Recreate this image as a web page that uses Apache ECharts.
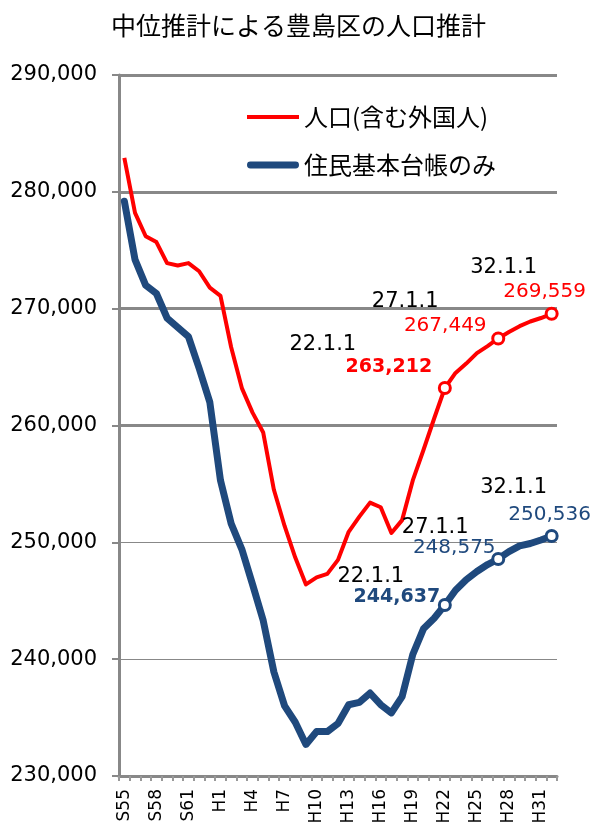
<!DOCTYPE html>
<html>
<head>
<meta charset="utf-8">
<script src="https://cdn.jsdelivr.net/npm/echarts@6/dist/echarts.min.js"></script>
<style>
html,body{margin:0;padding:0;background:#fff}
#chart{width:595px;height:836px}
</style>
</head>
<body>
<div id="chart"></div>
<script>
// 年（1月1日）
const categories = [
    'S55','S56','S57','S58','S59','S60','S61','S62','S63',
    'H1','H2','H3','H4','H5','H6','H7','H8','H9','H10',
    'H11','H12','H13','H14','H15','H16','H17','H18','H19','H20',
    'H21','H22','H23','H24','H25','H26','H27','H28','H29','H30',
    'H31','H32'
];
// 人口(含む外国人)
const popTotal = [
    282900, 278200, 276200, 275700, 273900, 273700, 273900, 273200, 271800,
    271100, 266700, 263200, 261100, 259400, 254500, 251400, 248700, 246400, 247000,
    247300, 248500, 250900, 252200, 253400, 253000, 250800, 251900, 255300, 257900,
    260600, 263212, 264500, 265300, 266200, 266800, 267449, 268000, 268500, 268900,
    269200, 269559
];
// 住民基本台帳のみ
const popRegistry = [
    279200, 274200, 272000, 271300, 269200, 268400, 267600, 264900, 262000,
    255300, 251600, 249400, 246400, 243300, 238900, 236000, 234600, 232700, 233800,
    233800, 234500, 236100, 236300, 237100, 236100, 235400, 236800, 240400, 242600,
    243500, 244637, 245900, 246800, 247500, 248100, 248575, 249200, 249700, 249900,
    250200, 250536
];
const yTicks = [230000, 290000, 10000];
const markYears = ['H22', 'H27', 'H32'];
const markDates = ['22.1.1', '27.1.1', '32.1.1'];
const thickGrid = [260000, 270000, 280000, 290000];

const RED = '#FF0000';
const BLUE = '#1F497D';

function fmt(v) {
    return v.toLocaleString('en-US');
}

/** 目印付きのデータを作る */
function buildData(values, color, valOffsets, boldIdx) {
    return values.map((v, i) => {
        let k = markYears.indexOf(categories[i]);
        if (k < 0) return v;
        return {
            value: v,
            symbol: 'circle',
            symbolSize: 11,
            itemStyle: {color: '#fff', borderColor: color, borderWidth: 3},
            label: {
                show: true,
                position: 'inside',
                offset: valOffsets[k],
                formatter: fmt(v),
                color: color,
                fontFamily: 'DejaVu Sans',
                fontSize: k === boldIdx ? 19 : 20,
                fontWeight: k === boldIdx ? 'bold' : 'normal'
            }
        };
    });
}

function buildDates(values, dateOffsets) {
    return markYears.map((y, k) => ({
        coord: [y, values[categories.indexOf(y)]],
        label: {formatter: markDates[k], offset: dateOffsets[k]}
    }));
}

const markPointBase = {
    symbol: 'circle',
    symbolSize: 1,
    itemStyle: {color: 'rgba(0,0,0,0)'},
    silent: true,
    label: {
        show: true,
        position: 'inside',
        color: '#000',
        fontFamily: 'DejaVu Sans',
        fontSize: 21
    }
};

let chart = echarts.init(document.getElementById('chart'));
chart.setOption({
    animation: false,
    backgroundColor: '#fff',
    title: {
        text: '中位推計による豊島区の人口推計',
        left: 106,
        top: 8,
        textStyle: {fontFamily: 'Noto Sans CJK JP', fontSize: 25, fontWeight: 'normal', color: '#000'}
    },
    legend: {
        orient: 'vertical',
        left: 242,
        top: 100,
        itemWidth: 52,
        itemHeight: 22,
        itemGap: 24,
        textStyle: {fontFamily: 'Noto Sans CJK JP', fontSize: 24, color: '#000'},
        data: [
            {name: '人口(含む外国人)', icon: 'path://M0,0H52V4H0Z', itemStyle: {color: RED}},
            {name: '住民基本台帳のみ', icon: 'path://M3,0H49A3,3 0 0 1 49,7H3A3,3 0 0 1 3,0Z', itemStyle: {color: BLUE}}
        ]
    },
    grid: {left: 119, right: 38, top: 75, bottom: 60, containLabel: false},
    xAxis: {
        type: 'category',
        data: categories,
        boundaryGap: true,
        axisLine: {lineStyle: {color: '#888', width: 3}},
        axisTick: {show: true, interval: 0, length: 5, lineStyle: {color: '#999', width: 2}},
        axisLabel: {
            interval: 2,
            rotate: 90,
            margin: 13,
            fontFamily: 'DejaVu Sans',
            fontSize: 17,
            color: '#000'
        },
        splitLine: {show: false}
    },
    yAxis: {
        type: 'value',
        min: yTicks[0],
        max: yTicks[1],
        interval: yTicks[2],
        axisLine: {show: true, lineStyle: {color: '#888', width: 3}},
        axisTick: {show: true, length: 7, lineStyle: {color: '#888', width: 2}},
        axisLabel: {
            margin: 22,
            formatter: fmt,
            fontFamily: 'DejaVu Sans',
            fontSize: 21,
            color: '#000'
        },
        splitLine: {lineStyle: {color: '#888', width: 1}}
    },
    series: [
        {
            name: '人口(含む外国人)',
            type: 'line',
            symbol: 'none',
            showAllSymbol: true,
            color: RED,
            lineStyle: {color: RED, width: 4, join: 'round'},
            data: buildData(popTotal, RED, [[-56, -21], [-53, -13], [-7, -22]], 0),
            markPoint: Object.assign({}, markPointBase, {
                data: buildDates(popTotal, [[-122, -43], [-93, -37], [-48, -46]])
            }),
            markLine: {
                z: 1,
                silent: true,
                symbol: ['none', 'none'],
                label: {show: false},
                lineStyle: {type: 'solid', color: '#888', width: 3},
                data: thickGrid.map(v => ({yAxis: v}))
            },
            z: 3
        },
        {
            name: '住民基本台帳のみ',
            type: 'line',
            symbol: 'none',
            showAllSymbol: true,
            color: BLUE,
            lineStyle: {color: BLUE, width: 7, join: 'round', cap: 'round'},
            data: buildData(popRegistry, BLUE, [[-48, -8], [-44, -11], [-2, -21]], 0),
            markPoint: Object.assign({}, markPointBase, {
                data: buildDates(popRegistry, [[-74, -28], [-63, -31], [-38, -49]])
            }),
            z: 3
        }
    ]
});
</script>
</body>
</html>
